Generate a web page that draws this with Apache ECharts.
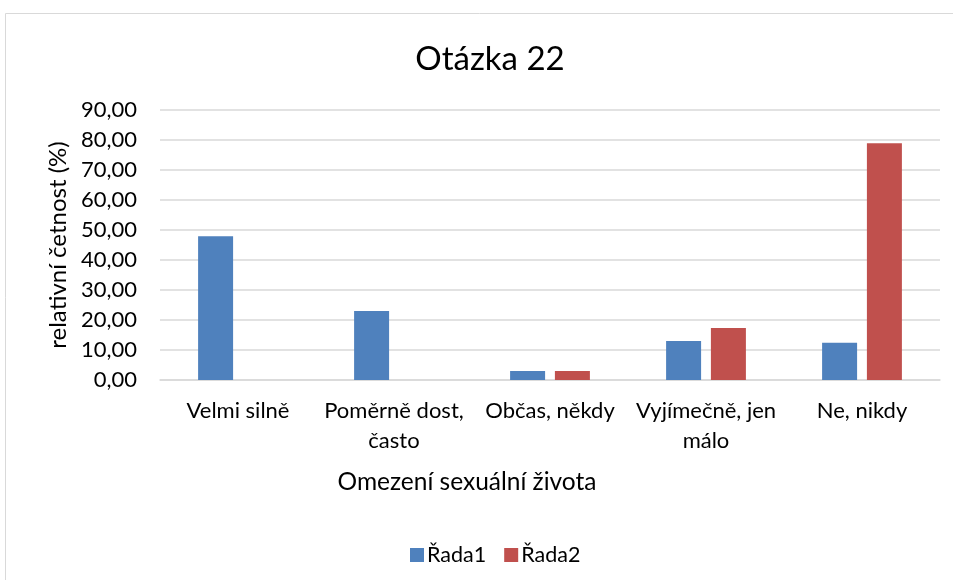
<!DOCTYPE html>
<html>
<head>
<meta charset="utf-8">
<script src="https://cdn.jsdelivr.net/npm/echarts@6/dist/echarts.min.js"></script>
<style>
    html, body { margin: 0; padding: 0; background: #fff; }
    #chartId { width: 953px; height: 580px; }
</style>
</head>
<body>
<div id="chartId"></div>
<script>
// kategorie a hodnoty (relativní četnost v %)
var categories = ['Velmi silně', 'Poměrně dost,\nčasto', 'Občas, někdy', 'Vyjímečně, jen\nmálo', 'Ne, nikdy'];
var rada1 = [47.9, 23.0, 3.0, 13.0, 12.4];
var rada2 = [0, 0, 3.0, 17.3, 78.9];
var seriesNames = ['Řada1', 'Řada2'];

var font = 'Lato, "Noto Sans", sans-serif';

var myChart = echarts.init(document.getElementById('chartId'));

myChart.setOption({
    animation: false,
    textStyle: { fontFamily: font },
    graphic: [{
        type: 'rect',
        shape: { x: 5.5, y: 13.5, width: 960, height: 600 },
        style: { fill: 'none', stroke: '#d9d9d9', lineWidth: 1 },
        silent: true
    }, {
        // název osy x (v originále není vystředěný na plochu grafu)
        type: 'text',
        x: 467,
        y: 482,
        style: {
            text: 'Omezení sexuální života',
            align: 'center',
            verticalAlign: 'middle',
            fontSize: 24.5,
            fontFamily: font,
            fill: '#000'
        }
    }],
    title: {
        text: 'Otázka 22',
        left: 485,
        textAlign: 'center',
        top: 38,
        textStyle: { fontSize: 33, fontWeight: 'normal', color: '#000', fontFamily: font }
    },
    legend: {
        data: seriesNames,
        left: 405,
        top: 539,
        itemWidth: 14,
        itemHeight: 14,
        itemGap: 18,
        icon: 'rect',
        textStyle: { fontSize: 21.5, color: '#000', fontFamily: font, padding: [0, 0, 0, -2] }
    },
    grid: { left: 160, right: 13, top: 110, bottom: 200 },
    xAxis: {
        type: 'category',
        data: categories,
        axisLine: { lineStyle: { color: '#d9d9d9', width: 1.5 } },
        axisTick: { show: false },
        axisLabel: { fontSize: 22, color: '#000', margin: 16, lineHeight: 30, interval: 0, fontFamily: font }
    },
    yAxis: {
        type: 'value',
        min: 0,
        max: 90,
        interval: 10,
        name: 'relativní četnost (%)',
        nameLocation: 'middle',
        nameGap: 90,
        nameTextStyle: { fontSize: 24, color: '#000', fontFamily: font },
        axisLine: { show: false },
        axisTick: { show: false },
        splitLine: { lineStyle: { color: '#d9d9d9', width: 1.5 } },
        axisLabel: {
            fontSize: 22, color: '#000', margin: 23, fontFamily: font,
            formatter: function(v) { return v.toFixed(2).replace('.', ','); }
        }
    },
    series: [{
        name: seriesNames[0],
        type: 'bar',
        data: rada1,
        barWidth: 35,
        barGap: '28%',
        itemStyle: { color: '#4f81bd' }
    }, {
        name: seriesNames[1],
        type: 'bar',
        data: rada2,
        barWidth: 35,
        itemStyle: { color: '#c0504d' }
    }]
});
</script>
</body>
</html>
